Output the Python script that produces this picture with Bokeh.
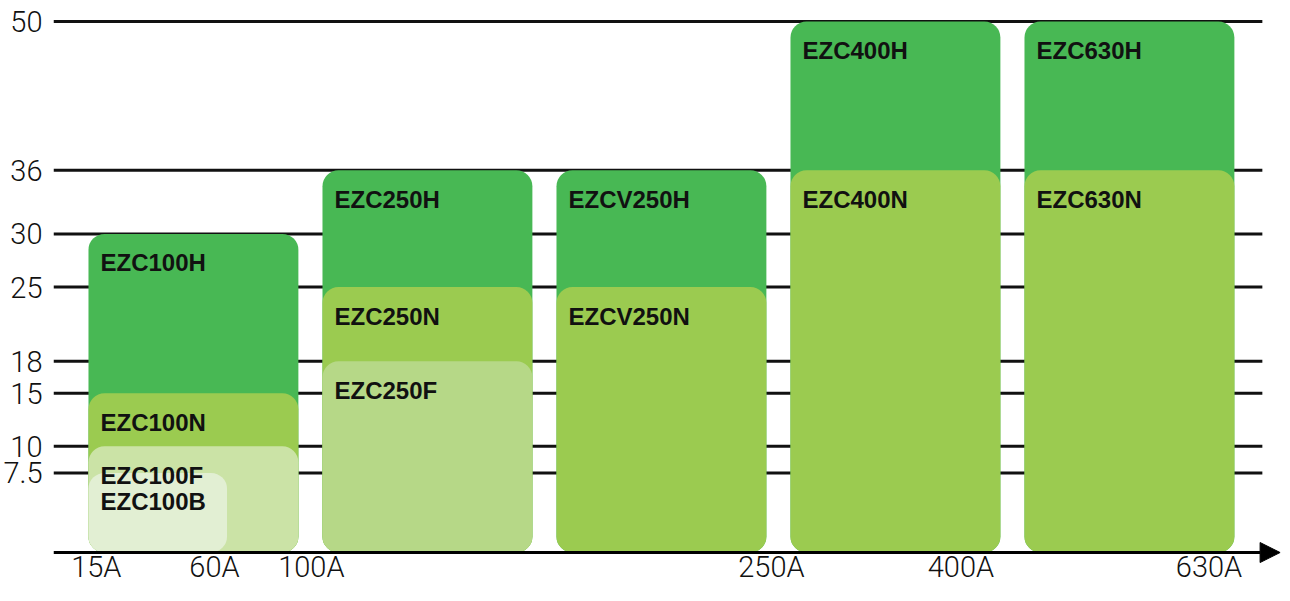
from bokeh.plotting import figure
from bokeh.models import Range1d, FixedTicker, NumeralTickFormatter, Arrow, NormalHead, ColumnDataSource
from bokeh.core.properties import value
from bokeh.embed import file_html
from bokeh.resources import INLINE

# ---------------- data ----------------
models = ["EZC100H", "EZC100N", "EZC100F", "EZC100B",
          "EZC250H", "EZC250N", "EZC250F",
          "EZCV250H", "EZCV250N",
          "EZC400H", "EZC400N",
          "EZC630H", "EZC630N"]
frame_group = [0, 0, 0, 0, 1, 1, 1, 2, 2, 3, 3, 4, 4]
breaking_capacity_ka = [30, 15, 10, 7.5, 36, 25, 18, 36, 25, 50, 36, 50, 36]
y_ticks = [7.5, 10, 15, 18, 25, 30, 36, 50]
x_tick_labels = ["15A", "60A", "100A", "250A", "400A", "630A"]

# ---------------- layout / style ----------------
x_tick_pos = [-0.415, 0.09, 0.504, 2.47, 3.28, 4.34]
FRAME_W = 1228
X0 = -0.598
X1 = X0 + FRAME_W / 234.0
GRID_END = 4.568
Y1 = 51.98
Y0 = Y1 - 585 / 10.62
BOX_W = 0.897
B_FRACTION = 0.66
palette = {"H": "#48B854", "N": "#9BCB50", "F": "#B6D887", "B": "#E2EFD3"}
special = {"EZC100F": "#CBE3A6"}

lefts = [g - BOX_W / 2 for g in frame_group]
rights = [l + BOX_W * (B_FRACTION if m.endswith("B") else 1.0) for l, m in zip(lefts, models)]
colors = [special.get(m, palette[m[-1]]) for m in models]

src = ColumnDataSource(dict(model=models, left=lefts, right=rights,
                            top=breaking_capacity_ka,
                            bottom=[0] * len(models), color=colors))
xsrc = ColumnDataSource(dict(x=x_tick_pos, y=[0] * len(x_tick_pos), text=x_tick_labels))
gsrc = ColumnDataSource(dict(y=y_ticks, x0=[X0] * len(y_ticks), x1=[GRID_END] * len(y_ticks)))

p = figure(frame_width=FRAME_W, frame_height=585, output_backend="svg", toolbar_location=None,
           x_range=Range1d(X0, X1), y_range=Range1d(Y0, Y1),
           min_border_left=46, min_border_right=0, min_border_top=0,
           min_border_bottom=0)
p.outline_line_color = None
p.background_fill_color = "white"
p.xaxis.visible = False
p.grid.visible = False

# horizontal guide lines at the y ticks
p.segment(x0="x0", x1="x1", y0="y", y1="y", source=gsrc,
          line_color="#111111", line_width=3)

# boxes
p.quad(left="left", right="right", top="top", bottom="bottom", source=src,
       fill_color="color", line_color=None, border_radius=16)

# labels inside boxes
p.text(x="left", y="top", text="model", source=src, x_offset=12, y_offset=29,
       text_font=value("Liberation Sans"), text_font_style="bold",
       text_font_size="24px", text_color="#111111", text_baseline="alphabetic")

# x tick labels
p.text(x="x", y="y", text="text", source=xsrc, y_offset=14,
       text_font=value("Roboto Light"), text_font_size="29px",
       text_color="#111111", text_align="center", text_baseline="alphabetic")

# y axis
ya = p.yaxis[0]
ya.ticker = FixedTicker(ticks=y_ticks)
ya.formatter = NumeralTickFormatter(format="0.[0]")
ya.axis_line_color = None
ya.major_tick_line_color = None
ya.minor_tick_line_color = None
ya.major_label_standoff = 5
ya.major_label_text_font = "Roboto Light"
ya.major_label_text_font_size = "29px"
ya.major_label_text_color = "#111111"

# axis line with arrow
p.add_layout(Arrow(x_start=X0, y_start=0, x_end=X1 - 0.006, y_end=0,
                   line_color="black", line_width=3,
                   end=NormalHead(size=20, fill_color="black", line_color="black")))

open("out.html", "w").write(file_html(p, INLINE))
